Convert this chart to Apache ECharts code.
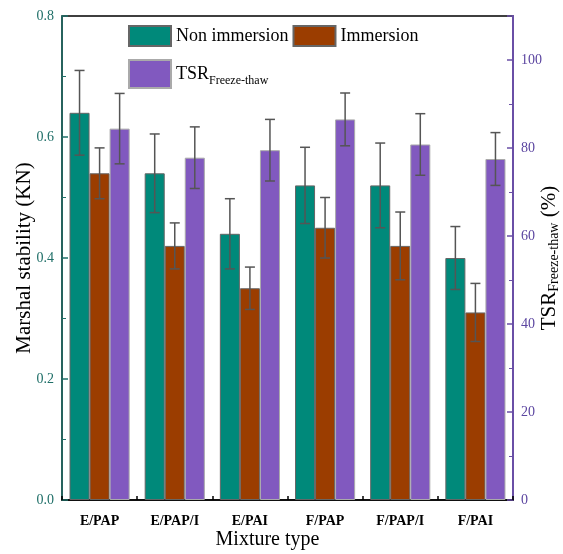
<!DOCTYPE html>
<html>
<head>
<meta charset="utf-8">
<script src="https://cdn.jsdelivr.net/npm/echarts@6/dist/echarts.min.js"></script>
<style>
html, body { margin: 0; padding: 0; background: #fff; }
#chart { width: 563px; height: 554px; }
</style>
</head>
<body>
<div id="chart"></div>
<script>
// data
var categories = ['E/PAP', 'E/PAP/I', 'E/PAI', 'F/PAP', 'F/PAP/I', 'F/PAI'];
var nonImmersion = [0.64, 0.54, 0.44, 0.52, 0.52, 0.40];
var nonImmersionErr = [0.07, 0.065, 0.058, 0.063, 0.07, 0.052];
var immersion = [0.54, 0.42, 0.35, 0.45, 0.42, 0.31];
var immersionErr = [0.042, 0.038, 0.035, 0.05, 0.056, 0.048];
var tsr = [84.4, 77.8, 79.5, 86.5, 80.8, 77.5];
var tsrErr = [8, 7, 7, 6, 7, 6];

var serif = 'Liberation Serif';
var teal = '#00897a', brown = '#9b3d00', purple = '#8159bf';
var tealAxis = '#1f6f68', purpleAxis = '#6a4fa6', purpleLabel = '#5b45a0';
var errColor = '#555';

// error bar drawn on top of a bar; idx = position of bar in the group (-1, 0, 1)
function errorBar(idx) {
    return function (params, api) {
        var x = api.value(0), y = api.value(1), e = api.value(2);
        var band = api.size([1, 0])[0];
        var bw = band * 0.8 / 3;
        var top = api.coord([x, y + e]);
        var bot = api.coord([x, y - e]);
        var cx = top[0] + idx * bw;
        var cap = 5;
        var st = { stroke: errColor, lineWidth: 1.5 };
        return {
            type: 'group',
            children: [
                { type: 'line', shape: { x1: cx, y1: top[1], x2: cx, y2: bot[1] }, style: st },
                { type: 'line', shape: { x1: cx - cap, y1: top[1], x2: cx + cap, y2: top[1] }, style: st },
                { type: 'line', shape: { x1: cx - cap, y1: bot[1], x2: cx + cap, y2: bot[1] }, style: st }
            ]
        };
    };
}

function errData(vals, errs) {
    return vals.map(function (v, i) { return [i, v, errs[i]]; });
}

var myChart = echarts.init(document.getElementById('chart'));

var legendText = {
    fontFamily: serif,
    fontSize: 18,
    color: '#000',
    rich: {
        sub: { fontFamily: serif, fontSize: 12, color: '#000', verticalAlign: 'bottom', padding: [14, 0, 0, 0] }
    }
};

var option = {
    animation: false,
    grid: {
        left: 62, right: 50, top: 16, bottom: 54,
        containLabel: false, outerBoundsMode: 'none',
        show: true, borderColor: '#000', borderWidth: 1.5
    },
    legend: [{
        data: ['Non immersion', 'Immersion'],
        left: 123, top: 20,
        icon: 'rect',
        itemWidth: 42, itemHeight: 20, itemGap: 4,
        textStyle: legendText
    }, {
        data: ['TSR'],
        left: 123, top: 54,
        icon: 'rect',
        itemWidth: 42, itemHeight: 28,
        formatter: function () { return 'TSR{sub|Freeze-thaw}'; },
        textStyle: legendText
    }],
    xAxis: [{
        type: 'category',
        data: categories,
        name: 'Mixture type',
        nameLocation: 'middle',
        nameGap: 30,
        nameMoveOverlap: false,
        nameTextStyle: { fontFamily: serif, fontSize: 20, color: '#000', padding: [0, 40, 0, 0] },
        axisLine: { lineStyle: { color: '#000', width: 1.5 } },
        axisTick: { show: true, inside: true, alignWithLabel: true, length: 6, lineStyle: { color: '#000', width: 1.5 } },
        axisLabel: { fontFamily: serif, fontSize: 14, fontWeight: 'bold', color: '#000', margin: 14 }
    }, {
        // small ticks between the groups
        type: 'category',
        data: categories,
        position: 'bottom',
        axisLine: { show: false },
        axisTick: { show: true, inside: true, length: 4, lineStyle: { color: '#000', width: 1.5 } },
        axisLabel: { show: false }
    }],
    yAxis: [{
        type: 'value',
        min: 0, max: 0.8, interval: 0.2,
        name: 'Marshal stability (KN)',
        nameLocation: 'middle',
        nameRotate: 90,
        nameGap: 27,
        nameMoveOverlap: false,
        nameTextStyle: { fontFamily: serif, fontSize: 21, color: '#000' },
        axisLine: { show: true, lineStyle: { color: tealAxis, width: 1.5 } },
        axisTick: { show: true, inside: true, length: 6, lineStyle: { color: tealAxis, width: 1.5 } },
        minorTick: { show: true, splitNumber: 2, length: 4, lineStyle: { color: tealAxis } },
        splitLine: { show: false },
        axisLabel: {
            fontFamily: serif, fontSize: 14, color: tealAxis, margin: 8,
            formatter: function (v) { return v.toFixed(1); }
        }
    }, {
        type: 'value',
        min: 0, max: 110, interval: 20,
        position: 'right',
        name: 'TSR{sub|Freeze-thaw} (%)',
        nameLocation: 'middle',
        nameRotate: 90,
        nameGap: 24,
        nameMoveOverlap: false,
        nameTextStyle: {
            fontFamily: serif, fontSize: 21, color: '#000',
            rich: { sub: { fontFamily: serif, fontSize: 14, color: '#000', verticalAlign: 'bottom', padding: [10, 0, 0, 0] } }
        },
        axisLine: { show: true, lineStyle: { color: purpleAxis, width: 2 } },
        axisTick: { show: true, inside: true, length: 6, lineStyle: { color: purpleAxis, width: 1.5 } },
        minorTick: { show: true, splitNumber: 2, length: 4, lineStyle: { color: purpleAxis } },
        splitLine: { show: false },
        axisLabel: { fontFamily: serif, fontSize: 14, color: purpleLabel, margin: 8, showMaxLabel: false }
    }],
    series: [{
        name: 'Non immersion',
        type: 'bar',
        data: nonImmersion,
        barGap: 0,
        barCategoryGap: '20%',
        itemStyle: { color: teal, borderColor: '#666', borderWidth: 1 }
    }, {
        name: 'Immersion',
        type: 'bar',
        data: immersion,
        itemStyle: { color: brown, borderColor: '#666', borderWidth: 1 }
    }, {
        name: 'TSR',
        type: 'bar',
        yAxisIndex: 1,
        data: tsr,
        itemStyle: { color: purple, borderColor: '#aaa', borderWidth: 1 }
    }, {
        type: 'custom',
        renderItem: errorBar(-1),
        data: errData(nonImmersion, nonImmersionErr),
        z: 10
    }, {
        type: 'custom',
        renderItem: errorBar(0),
        data: errData(immersion, immersionErr),
        z: 10
    }, {
        type: 'custom',
        yAxisIndex: 1,
        renderItem: errorBar(1),
        data: errData(tsr, tsrErr),
        z: 10
    }]
};

myChart.setOption(option);
</script>
</body>
</html>
